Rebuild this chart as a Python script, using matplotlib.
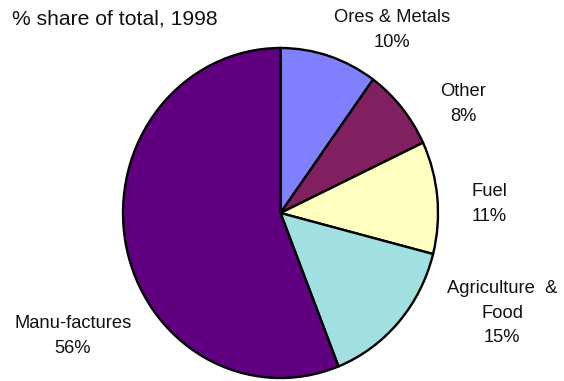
import numpy as np
import matplotlib
matplotlib.use('Agg')
import matplotlib.pyplot as plt

plt.rcParams['font.family'] = ['Liberation Sans', 'DejaVu Sans']

# export shares, clockwise from 12 o'clock
categories = ['Ores & Metals', 'Other', 'Fuel', 'Agriculture  &\nFood', 'Manu-factures']
shares = [10, 8, 11, 15, 56]
colours = ['#8080ff', '#802060', '#ffffc0', '#a0e0e0', '#600080']

# label anchor points in pixels (origin top-left)
label_xy = [(392, 30), (463, 104), (489, 204), (502, 313), (73, 336)]

W, H = 564, 381
cx, cy = 280.5, 213      # pie centre, px
rx, ry = 157.5, 165      # pie is drawn slightly taller than wide


def px(x, y):
    return (x - cx) / rx, (cy - y) / ry


fig = plt.figure(figsize=(W / 100, H / 100), dpi=100)
ax = fig.add_axes([0, 0, 1, 1])

ax.pie(shares, colors=colours, startangle=90, counterclock=False,
       radius=1, wedgeprops=dict(edgecolor='black', linewidth=1.7))
ax.set_aspect('auto')
ax.set_xlim(-cx / rx, (W - cx) / rx)
ax.set_ylim(-(H - cy) / ry, cy / ry)
ax.axis('off')

for name, val, (x, y) in zip(categories, shares, label_xy):
    ax.text(*px(x, y), f'{name}\n{val}%', ha='center', va='center',
            fontsize=13.2, linespacing=1.55, color='#111111')

ax.text(*px(12, 19), '% share of total, 1998', ha='left', va='center',
        fontsize=15.2, color='#111111')

fig.savefig('out.png', dpi=100)
